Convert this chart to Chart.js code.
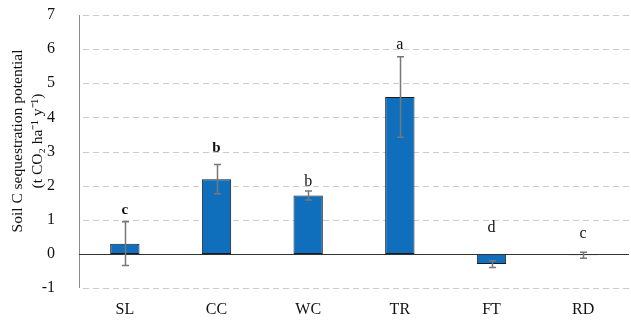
<!DOCTYPE html>
<html>
<head>
<meta charset="utf-8">
<script src="https://cdn.jsdelivr.net/npm/chart.js@4/dist/chart.umd.min.js"></script>
<style>
  html, body { margin: 0; padding: 0; background: #fff; }
  #wrap { width: 631px; height: 322px; }
</style>
</head>
<body>
<div id="wrap"><canvas id="chart"></canvas></div>
<script>
// Chart data.
const categories = ['SL', 'CC', 'WC', 'TR', 'FT', 'RD'];
const values = [0.30, 2.19, 1.71, 4.60, -0.30, -0.04];
const errors = [0.64, 0.43, 0.13, 1.18, 0.10, 0.09];
const letters = ['c', 'b', 'b', 'a', 'd', 'c'];
const letterAt = [1.27, 3.11, 2.11, 6.13, 0.76, 0.59];
const letterBold = [true, true, false, false, false, false];
const yTicks = [-1, 0, 1, 2, 3, 4, 5, 6, 7];
const yTitle = ['Soil C sequestration potential', '(t CO\u2082 ha\u207B\u00B9 y\u207B\u00B9)'];

const serif = '"Liberation Serif", "Times New Roman", serif';

// Dashed gridlines behind the bars.
const dashedGrid = {
  id: 'dashedGrid',
  beforeDatasetsDraw: (chart) => {
    const {ctx, scales: {y}, chartArea} = chart;
    ctx.save();
    ctx.strokeStyle = '#cccccc';
    ctx.lineWidth = 1;
    ctx.setLineDash([6, 4]);
    yTicks.filter(v => v !== 0).forEach(v => {
      const py = Math.round(y.getPixelForValue(v)) + 0.5;
      ctx.beginPath();
      ctx.moveTo(chartArea.left + 4, py);
      ctx.lineTo(chartArea.right, py);
      ctx.stroke();
    });
    ctx.restore();
  }
};

// Axis line, zero line, error bars, significance letters and axis title.
const extras = {
  id: 'extras',
  afterDatasetsDraw: (chart) => {
    const {ctx, scales: {x, y}, chartArea} = chart;
    ctx.save();
    // y axis line
    ctx.strokeStyle = '#8a8a8a';
    ctx.lineWidth = 1;
    ctx.beginPath();
    ctx.moveTo(chartArea.left + 0.5, chartArea.top);
    ctx.lineTo(chartArea.left + 0.5, chartArea.bottom);
    ctx.stroke();
    // zero line
    ctx.strokeStyle = '#333';
    const y0 = Math.round(y.getPixelForValue(0)) + 0.5;
    ctx.beginPath();
    ctx.moveTo(chartArea.left, y0);
    ctx.lineTo(chartArea.right, y0);
    ctx.stroke();
    // error bars
    ctx.strokeStyle = '#777';
    ctx.lineWidth = 1.5;
    values.forEach((v, i) => {
      const px = Math.round(x.getPixelForValue(i)) + 0.5;
      const top = y.getPixelForValue(v + errors[i]);
      const bot = y.getPixelForValue(v - errors[i]);
      ctx.beginPath();
      ctx.moveTo(px, top); ctx.lineTo(px, bot);
      ctx.moveTo(px - 3.5, top); ctx.lineTo(px + 3.5, top);
      ctx.moveTo(px - 3.5, bot); ctx.lineTo(px + 3.5, bot);
      ctx.stroke();
    });
    // letters
    ctx.fillStyle = '#111';
    ctx.textAlign = 'center';
    ctx.textBaseline = 'middle';
    letters.forEach((t, i) => {
      ctx.font = (letterBold[i] ? 'bold 15px ' : '16px ') + serif;
      ctx.fillText(t, x.getPixelForValue(i), y.getPixelForValue(letterAt[i]));
    });
    // y title
    ctx.font = '15.5px ' + serif;
    ctx.translate(0, 141);
    ctx.rotate(-Math.PI / 2);
    ctx.fillText(yTitle[0], 0, 18);
    ctx.fillText(yTitle[1], 0, 38);
    ctx.restore();
  }
};

const ctx = document.getElementById('chart').getContext('2d');
new Chart(ctx, {
  type: 'bar',
  data: {
    labels: categories,
    datasets: [{
      data: values,
      backgroundColor: '#0f6fbd',
      borderColor: '#1b1b1b',
      borderWidth: 1,
      borderSkipped: false,
      barPercentage: 0.32,
      categoryPercentage: 1,
    }],
  },
  options: {
    responsive: true,
    maintainAspectRatio: false,
    animation: false,
    layout: { padding: { top: 15, right: 2, left: 0, bottom: 0 } },
    plugins: {
      legend: { display: false },
      tooltip: { enabled: false },
    },
    scales: {
      x: {
        grid: { display: false },
        border: { display: false },
        ticks: { color: '#111', font: { family: serif, size: 16 }, padding: 4 },
        afterFit: (s) => { s.height = 34; s.paddingLeft = 0; s.paddingRight = 0; },
      },
      y: {
        min: -1,
        max: 7,
        afterBuildTicks: (s) => { s.ticks = yTicks.map(v => ({value: v})); },
        grid: { display: false },
        border: { display: false },
        ticks: { color: '#111', font: { family: serif, size: 16 }, padding: 16 },
        afterFit: (s) => { s.width = 79; s.paddingTop = 0; s.paddingBottom = 0; },
      },
    },
  },
  plugins: [dashedGrid, extras],
});
</script>
</body>
</html>
